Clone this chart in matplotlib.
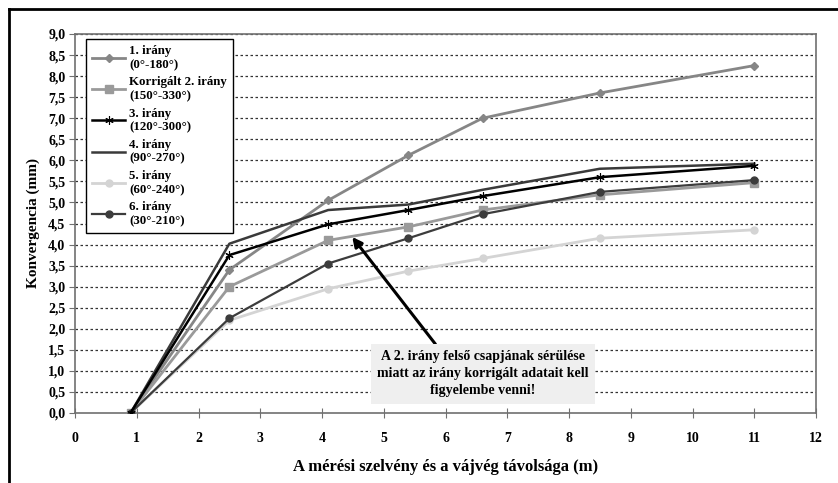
import matplotlib.pyplot as plt
from matplotlib.lines import Line2D
from matplotlib.ticker import MultipleLocator, FuncFormatter

# distances (m)
distance = [0.9, 2.5, 4.1, 5.4, 6.6, 8.5, 11.0]

# convergence (mm) per direction
irany_1 = [0.0, 3.4, 5.05, 6.12, 7.0, 7.6, 8.25]
irany_2_korr = [0.0, 3.0, 4.1, 4.42, 4.82, 5.18, 5.47]
irany_3 = [0.0, 3.75, 4.48, 4.82, 5.15, 5.6, 5.87]
irany_4 = [0.0, 4.02, 4.82, 4.95, 5.3, 5.8, 5.92]
irany_5 = [0.0, 2.2, 2.95, 3.37, 3.67, 4.15, 4.35]
irany_6 = [0.0, 2.25, 3.55, 4.15, 4.72, 5.25, 5.53]

labels = ['1. irány\n(0°-180°)', 'Korrigált 2. irány\n(150°-330°)',
          '3. irány\n(120°-300°)', '4. irány\n(90°-270°)',
          '5. irány\n(60°-240°)', '6. irány\n(30°-210°)']

plt.rcParams['font.family'] = ['Liberation Serif', 'DejaVu Serif']
plt.rcParams['font.weight'] = 'bold'

fig = plt.figure(figsize=(8.38, 4.83), dpi=100)
ax = fig.add_axes([75 / 838, 1 - 413 / 483, 741 / 838, 379 / 483])

# outer frame (top and left only visible)
fig.add_artist(Line2D([9 / 838, 1], [1 - 9 / 483, 1 - 9 / 483], color='black', lw=2))
fig.add_artist(Line2D([9 / 838, 9 / 838], [0, 1 - 9 / 483], color='black', lw=2))

asterisk = (6, 2, 0)
ax.plot(distance, irany_1, color='#868686', lw=2, marker='D', ms=4, label=labels[0], zorder=3)
ax.plot(distance, irany_2_korr, color='#9a9a9a', lw=2, marker='s', ms=6, label=labels[1], zorder=3)
ax.plot(distance, irany_3, color='black', lw=1.8, marker=asterisk, ms=6, mew=0.8, label=labels[2], zorder=4)
ax.plot(distance, irany_4, color='#3a3a3a', lw=1.8, label=labels[3], zorder=3)
ax.plot(distance, irany_5, color='#d4d4d4', lw=2, marker='o', ms=5, label=labels[4], zorder=3)
ax.plot(distance, irany_6, color='#3c3c3c', lw=1.6, marker='o', ms=5, label=labels[5], zorder=3)

ax.set_xlim(0, 12)
ax.set_ylim(0, 9)
ax.xaxis.set_major_locator(MultipleLocator(1))
ax.yaxis.set_major_locator(MultipleLocator(0.5))
ax.yaxis.set_major_formatter(FuncFormatter(lambda v, p: f'{v:.1f}'.replace('.', ',')))

for yv in [i * 0.5 for i in range(1, 19)]:
    ax.axhline(yv, color='#333333', lw=0.9, ls=(0, (2, 2)), zorder=1)

for s in ax.spines.values():
    s.set_color('#707070')
    s.set_linewidth(1.2)

ax.tick_params(axis='x', direction='inout', length=7, color='#707070', labelsize=10, pad=10)
ax.tick_params(axis='y', direction='out', length=4, color='#707070', labelsize=10, pad=3)

ax.set_xlabel('A mérési szelvény és a vájvég távolsága (m)', fontsize=12, fontweight='bold', labelpad=10)
ax.set_ylabel('Konvergencia (mm)', fontsize=11, fontweight='bold', labelpad=6)

leg = ax.legend(loc='upper left', bbox_to_anchor=(0.006, 1.003), fontsize=9.3,
                frameon=True, fancybox=False, edgecolor='black', framealpha=1,
                handlelength=2.6, labelspacing=0.42, borderpad=0.45, handletextpad=0.3)
leg.get_frame().set_linewidth(1.0)
leg.set_zorder(5)

ax.annotate('A 2. irány felső csapjának sérülése\nmiatt az irány korrigált adatait kell\nfigyelembe venni!',
            xy=(4.49, 4.18), xytext=(6.6, 0.93), fontsize=10, fontweight='bold',
            ha='center', va='center', linespacing=1.4,
            bbox=dict(boxstyle='square,pad=0.45', fc='#efefef', ec='none'),
            arrowprops=dict(arrowstyle='-|>', color='black', lw=2.2, shrinkA=0, shrinkB=0,
                            mutation_scale=14, relpos=(0.3, 1.0)),
            zorder=6)

fig.savefig('out.png', dpi=100)
